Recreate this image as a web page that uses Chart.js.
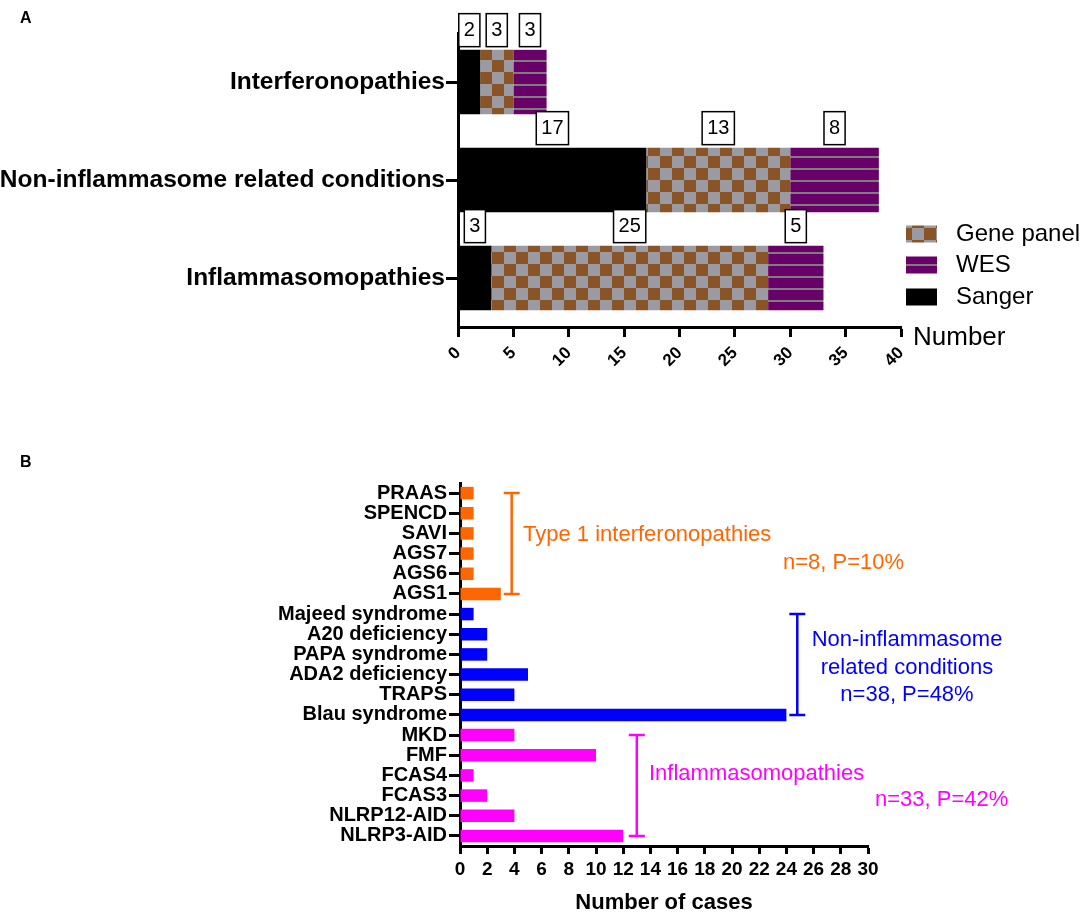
<!DOCTYPE html>
<html>
<head>
<meta charset="utf-8">
<script src="https://cdn.jsdelivr.net/npm/chart.js@4.4.1/dist/chart.umd.min.js"></script>
<style>
  html, body { margin: 0; padding: 0; background: #fff; }
  #wrap { position: relative; width: 1084px; height: 916px; overflow: hidden; }
  .panel { position: absolute; left: 0; }
  #panelA { top: 0; }
  #panelB { top: 420px; }
</style>
</head>
<body>
<div id="wrap">
  <div class="panel" id="panelA"><canvas id="chartA" width="1084" height="420"></canvas></div>
  <div class="panel" id="panelB"><canvas id="chartB" width="1084" height="496"></canvas></div>
</div>
<script>
// ---- Panel A : method of diagnosis per group ----
const groupsA = ['Interferonopathies', 'Non-inflammasome related conditions', 'Inflammasomopathies'];
const sanger = [2, 17, 3];
const genePanel = [3, 13, 25];
const wes = [3, 8, 5];
const ticksA = [0, 5, 10, 15, 20, 25, 30, 35, 40];
const legendA = ['Gene panel', 'WES', 'Sanger'];

// ---- Panel B : cases per disease ----
const diseases = ['PRAAS', 'SPENCD', 'SAVI', 'AGS7', 'AGS6', 'AGS1',
  'Majeed syndrome', 'A20 deficiency', 'PAPA syndrome', 'ADA2 deficiency', 'TRAPS', 'Blau syndrome',
  'MKD', 'FMF', 'FCAS4', 'FCAS3', 'NLRP12-AID', 'NLRP3-AID'];
const cases = [1, 1, 1, 1, 1, 3, 1, 2, 2, 5, 4, 24, 4, 10, 1, 2, 4, 12];
const ticksB = [0, 2, 4, 6, 8, 10, 12, 14, 16, 18, 20, 22, 24, 26, 28, 30];
const groupNames = [['Type 1 interferonopathies'], ['Non-inflammasome', 'related conditions'], ['Inflammasomopathies']];
const groupFirst = [0, 6, 12];
const groupLast = [5, 11, 17];
const groupN = [8, 38, 33];
const groupP = [10, 48, 42];

const FONT = "'Liberation Sans', Arial, Helvetica, sans-serif";
Chart.defaults.font.family = FONT;
Chart.defaults.color = '#000';

//Motifs des barres
function makeChecks() {
  const c = document.createElement('canvas');
  c.width = 24; c.height = 24;
  const g = c.getContext('2d');
  g.fillStyle = '#9a9aa3';
  g.fillRect(0, 0, 24, 24);
  g.fillStyle = '#8a5426';
  g.fillRect(0, 0, 12, 12);
  g.fillRect(12, 12, 12, 12);
  return g.createPattern(c, 'repeat');
}
function makeStripes() {
  const c = document.createElement('canvas');
  c.width = 12; c.height = 12;
  const g = c.getContext('2d');
  g.fillStyle = '#690069';
  g.fillRect(0, 0, 12, 12);
  g.fillStyle = '#7d7d7d';
  g.fillRect(0, 0, 12, 2);
  return g.createPattern(c, 'repeat');
}
const checks = makeChecks();
const stripes = makeStripes();

//Boites avec les valeurs au-dessus des segments + legende
const panelAExtras = {
  id: 'panelAExtras',
  afterDatasetsDraw(chart) {
    const ctx = chart.ctx;
    ctx.save();
    ctx.font = '20px ' + FONT;
    ctx.textAlign = 'center';
    ctx.textBaseline = 'middle';
    chart.data.datasets.forEach((ds, i) => {
      chart.getDatasetMeta(i).data.forEach((el, j) => {
        const p = el.getProps(['x', 'y', 'base', 'height'], true);
        const cx = (p.x + p.base) / 2;
        const bottom = p.y - p.height / 2 - 3;
        const txt = String(ds.data[j]);
        const w = Math.max(21, ctx.measureText(txt).width + 10);
        ctx.fillStyle = '#fff';
        ctx.fillRect(cx - w / 2, bottom - 33, w, 33);
        ctx.strokeStyle = '#000';
        ctx.lineWidth = 1.5;
        ctx.strokeRect(cx - w / 2, bottom - 33, w, 33);
        ctx.fillStyle = '#000';
        ctx.fillText(txt, cx, bottom - 16);
      });
    });
    ctx.restore();
  },
  afterDraw(chart) {
    const ctx = chart.ctx;
    ctx.save();
    // legende
    const fills = [checks, stripes, '#000'];
    const ys = [234, 265, 297];
    ctx.font = '24px ' + FONT;
    ctx.textBaseline = 'middle';
    ctx.textAlign = 'left';
    legendA.forEach((name, i) => {
      ctx.fillStyle = fills[i];
      ctx.fillRect(906, ys[i] - 8.5, 31, 17);
      ctx.fillStyle = '#000';
      ctx.fillText(name, 956, ys[i]);
    });
    // titre de l'axe x
    ctx.font = '26px ' + FONT;
    ctx.fillText('Number', chart.chartArea.right + 12, chart.chartArea.bottom + 11);
    // lettre du panneau
    ctx.font = 'bold 16px ' + FONT;
    ctx.fillText('A', 20, 19);
    ctx.restore();
  }
};

new Chart(document.getElementById('chartA'), {
  type: 'bar',
  data: {
    labels: groupsA,
    datasets: [
      { label: 'Sanger', data: sanger, backgroundColor: '#000' },
      { label: 'Gene panel', data: genePanel, backgroundColor: checks },
      { label: 'WES', data: wes, backgroundColor: stripes }
    ]
  },
  options: {
    indexAxis: 'y',
    responsive: false,
    animation: false,
    devicePixelRatio: 1,
    layout: { padding: { left: 0, right: 183, top: 33, bottom: 0 } },
    datasets: { bar: { barPercentage: 0.66, categoryPercentage: 1, borderWidth: 0 } },
    plugins: { legend: { display: false }, tooltip: { enabled: false } },
    scales: {
      x: {
        stacked: true,
        min: 0, max: 40,
        afterBuildTicks: (s) => { s.ticks = ticksA.map(v => ({ value: v })); },
        afterFit: (s) => { s.height = 93; },
        border: { display: true, color: '#000', width: 3 },
        grid: { drawOnChartArea: false, drawTicks: true, tickLength: 10, tickWidth: 3, tickColor: '#000' },
        ticks: { minRotation: 45, maxRotation: 45, padding: 6, font: { size: 17, weight: 'bold' }, color: '#000' }
      },
      y: {
        stacked: true,
        afterFit: (s) => { s.width = 458; },
        border: { display: true, color: '#000', width: 3 },
        grid: { offset: false, drawOnChartArea: false, drawTicks: true, tickLength: 12, tickWidth: 3, tickColor: '#000' },
        ticks: { padding: 1, font: { size: 24.5, weight: 'bold' }, color: '#000' }
      }
    }
  },
  plugins: [panelAExtras]
});

//Couleurs des groupes de maladies
const groupColors = ['#ff6600', '#0000ff', '#ff00ff'];
const barColors = diseases.map((d, i) => {
  const g = groupFirst.findIndex((f, k) => i >= f && i <= groupLast[k]);
  return groupColors[g];
});

//Accolades et textes des groupes
const panelBExtras = {
  id: 'panelBExtras',
  afterDraw(chart) {
    const ctx = chart.ctx;
    const xs = chart.scales.x, ys = chart.scales.y;
    // position horizontale des accolades (unites de l'axe x) et des textes
    const bracketAt = [3.8, 24.8, 13.0];
    const textLayout = [
      { name: { x: 523, y: 115, align: 'left' }, stats: { x: 783, y: 143, align: 'left' } },
      { name: { x: 907, y: 220, align: 'center' }, stats: { x: 907, y: 275, align: 'center' } },
      { name: { x: 649, y: 354, align: 'left' }, stats: { x: 875, y: 380, align: 'left' } }
    ];
    ctx.save();
    groupNames.forEach((lines, k) => {
      const col = groupColors[k];
      const bx = xs.getPixelForValue(bracketAt[k]);
      const y0 = ys.getPixelForValue(groupFirst[k]);
      const y1 = ys.getPixelForValue(groupLast[k]);
      ctx.strokeStyle = col;
      ctx.lineWidth = 2.5;
      ctx.beginPath();
      ctx.moveTo(bx, y0); ctx.lineTo(bx, y1);
      ctx.moveTo(bx - 8, y0); ctx.lineTo(bx + 8, y0);
      ctx.moveTo(bx - 8, y1); ctx.lineTo(bx + 8, y1);
      ctx.stroke();
      ctx.fillStyle = col;
      ctx.font = '22px ' + FONT;
      ctx.textBaseline = 'middle';
      const L = textLayout[k];
      ctx.textAlign = L.name.align;
      lines.forEach((t, li) => ctx.fillText(t, L.name.x, L.name.y + li * 28));
      ctx.textAlign = L.stats.align;
      ctx.fillText('n=' + groupN[k] + ', P=' + groupP[k] + '%', L.stats.x, L.stats.y);
    });
    ctx.fillStyle = '#000';
    ctx.textAlign = 'left';
    ctx.font = 'bold 16px ' + FONT;
    ctx.fillText('B', 20, 43);
    ctx.restore();
  }
};

new Chart(document.getElementById('chartB'), {
  type: 'bar',
  data: {
    labels: diseases,
    datasets: [{ label: 'Number of cases', data: cases, backgroundColor: barColors, borderWidth: 0 }]
  },
  options: {
    indexAxis: 'y',
    responsive: false,
    animation: false,
    devicePixelRatio: 1,
    layout: { padding: { left: 0, right: 216, top: 63, bottom: 0 } },
    datasets: { bar: { barPercentage: 0.62, categoryPercentage: 1 } },
    plugins: { legend: { display: false }, tooltip: { enabled: false } },
    scales: {
      x: {
        min: 0, max: 30,
        afterBuildTicks: (s) => { s.ticks = ticksB.map(v => ({ value: v })); },
        afterFit: (s) => { s.height = 70; },
        border: { display: true, color: '#000', width: 3 },
        grid: { drawOnChartArea: false, drawTicks: true, tickLength: 8, tickWidth: 3, tickColor: '#000' },
        ticks: { maxRotation: 0, minRotation: 0, padding: 4, font: { size: 19, weight: 'bold' }, color: '#000' },
        title: { display: true, text: 'Number of cases', font: { size: 22, weight: 'bold' }, color: '#000', padding: { top: 0, bottom: 0 } }
      },
      y: {
        afterFit: (s) => { s.width = 460; },
        border: { display: true, color: '#000', width: 3 },
        grid: { offset: false, drawOnChartArea: false, drawTicks: true, tickLength: 11, tickWidth: 3, tickColor: '#000' },
        ticks: { padding: 2, font: { size: 20, weight: 'bold' }, color: '#000', autoSkip: false }
      }
    }
  },
  plugins: [panelBExtras]
});
</script>
</body>
</html>
